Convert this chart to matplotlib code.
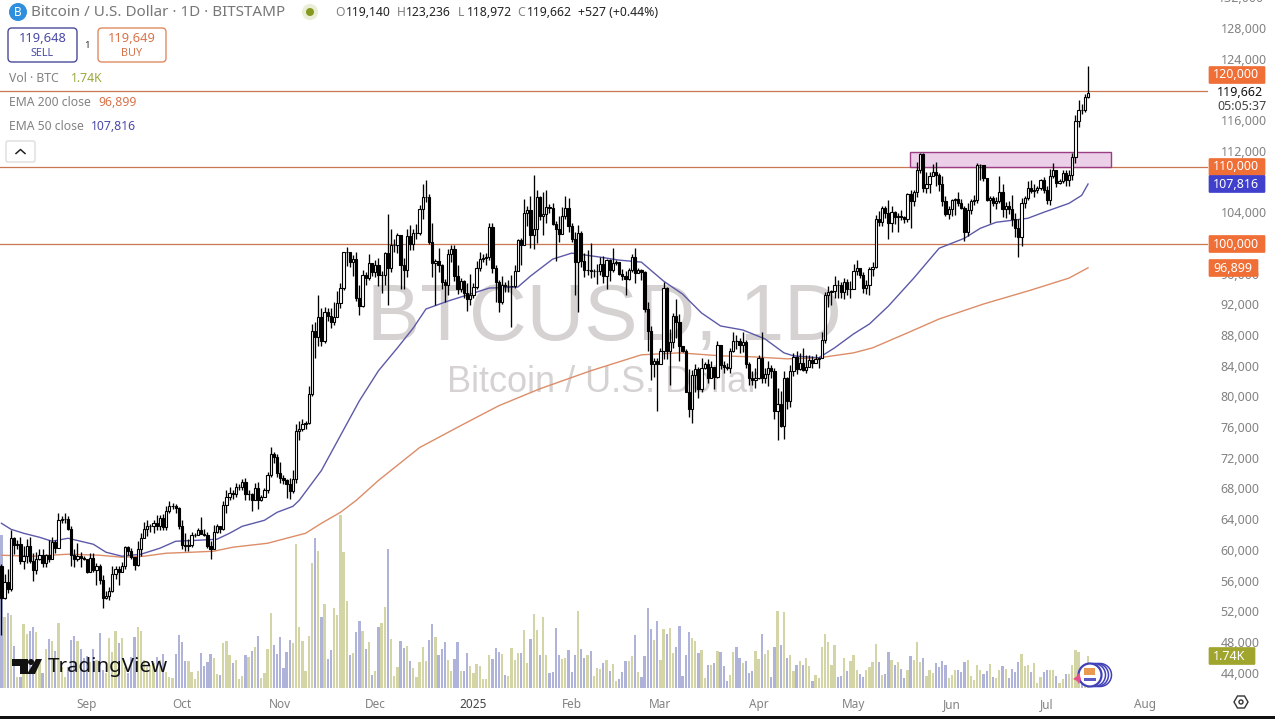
import matplotlib
matplotlib.use('Agg')
import matplotlib.pyplot as plt
from matplotlib.patches import Circle, FancyBboxPatch, Polygon, Rectangle
from matplotlib.transforms import ScaledTranslation

plt.rcParams['font.family'] = ['Noto Sans', 'DejaVu Sans']

# daily candles from 5 Aug 2024 to 14 Jul 2025, prices in thousands of USD
closes = [
    53.9,56.0,55.1,61.7,60.8,60.9,58.7,59.3,60.6,58.7,57.5,58.9,59.5,58.4,59.5,59.0,61.2,60.4,64.1,64.2,64.2,62.9,59.5,59.0,59.4,59.1,58.9,
    57.3,59.1,57.5,58.0,56.2,53.9,54.1,54.8,57.0,57.6,57.3,58.1,60.5,60.0,59.2,58.2,60.3,61.7,62.9,63.2,63.3,63.6,63.3,64.3,63.1,65.2,65.8,65.9,65.6,63.3,
    60.8,60.6,60.8,62.1,62.1,62.8,62.2,62.1,60.6,60.3,62.5,63.2,62.9,66.0,67.0,67.6,67.4,68.4,68.4,69.0,67.4,67.4,66.7,68.2,66.6,67.0,67.9,69.9,72.7,72.3,70.2,
    69.5,69.3,68.7,67.8,69.4,75.6,75.9,76.5,76.7,80.4,88.7,87.9,90.5,87.4,91.1,90.6,89.9,90.5,92.3,94.3,98.9,99.0,97.7,98.0,93.0,91.9,95.9,95.6,97.5,96.4,
    97.2,95.9,96.0,98.8,96.9,99.9,99.9,101.2,97.3,96.6,101.1,100.0,101.4,101.4,104.5,106.1,106.1,100.2,97.5,97.8,97.2,95.1,94.7,98.7,99.4,95.8,94.2,95.2,93.6,92.8,93.4,
    94.4,96.9,98.1,98.2,98.3,102.2,96.9,95.0,92.5,94.7,94.5,94.5,94.5,96.5,100.5,99.9,104.1,104.4,101.2,102.0,106.1,103.6,103.9,104.8,104.7,102.6,102.0,101.3,103.7,104.7,102.4,
    100.6,97.7,101.4,97.8,96.6,96.6,96.5,96.5,96.5,97.4,95.8,97.9,96.6,97.5,97.6,96.1,95.8,95.5,96.6,98.3,96.2,96.6,96.3,91.5,88.7,84.3,84.7,84.4,
    86.0,94.3,86.1,87.2,90.6,89.9,86.7,86.1,80.7,78.5,82.9,83.7,81.1,83.9,84.3,82.6,84.0,82.7,86.9,84.2,84.0,83.8,86.1,87.4,87.3,86.9,87.2,84.3,82.6,82.3,82.5,
    85.1,82.5,83.1,83.8,83.5,78.2,79.2,76.3,82.6,79.6,83.4,85.3,83.7,84.5,83.6,84.0,84.9,84.5,85.0,85.1,87.5,93.4,93.7,93.9,94.7,94.6,93.8,95.0,94.2,94.2,
    96.5,96.9,95.9,94.3,94.7,96.8,97.0,103.2,102.9,104.7,104.1,102.8,104.2,103.5,103.7,103.5,103.2,106.5,105.6,106.8,109.7,111.7,107.3,107.8,108.9,109.4,109.0,107.8,105.6,103.9,104.6,
    105.7,105.9,105.4,104.7,101.5,104.4,105.6,105.7,110.3,110.3,108.6,105.7,106.0,105.4,105.6,106.8,104.6,104.9,104.6,103.3,102.1,100.9,105.3,106.0,107.3,106.9,107.0,107.3,108.4,107.1,
    105.7,108.8,109.6,108.0,108.2,109.2,108.3,109.0,111.3,116.0,117.5,117.4,119.14,119.66,
]
highs = [
    58.3,57.0,57.7,62.7,61.8,61.4,61.8,60.7,61.6,61.8,59.8,59.9,60.2,60.3,59.6,61.4,61.8,61.4,64.9,64.5,65.0,64.5,63.2,60.2,61.1,59.9,59.4,
    59.0,59.8,59.8,58.5,58.3,56.9,54.8,55.3,58.1,58.0,58.0,58.6,60.7,60.6,60.4,59.2,61.3,62.4,63.8,64.0,63.5,64.0,64.7,64.7,64.8,65.8,66.5,66.2,66.1,65.7,
    64.1,62.4,61.5,62.5,62.3,63.0,64.4,62.9,62.5,61.3,63.4,63.5,63.3,66.5,67.9,68.4,68.0,68.9,68.7,69.4,69.5,67.9,67.5,68.9,69.0,67.3,68.2,70.3,73.5,72.9,72.7,
    71.6,69.9,69.4,69.5,70.6,76.5,76.9,77.2,76.9,81.5,89.6,89.9,93.3,91.7,91.8,91.7,91.7,92.5,93.9,94.9,99.0,99.6,99.0,98.6,98.9,94.6,96.6,96.4,98.7,97.4,
    97.9,98.2,96.5,99.0,103.9,102.0,100.6,101.4,101.2,98.2,101.9,102.5,101.9,102.6,105.1,107.8,108.3,106.5,102.8,98.0,99.5,97.4,95.4,99.4,99.9,99.9,97.3,95.6,95.3,94.9,96.1,
    94.9,97.8,98.9,98.7,98.8,102.7,102.7,97.2,95.3,95.8,95.0,95.3,95.9,97.3,100.7,100.8,105.9,104.9,106.3,109.0,107.1,106.3,106.8,107.0,105.2,105.4,103.0,103.7,104.8,106.3,106.0,
    102.8,101.5,102.5,101.7,98.8,99.2,100.1,96.8,97.4,98.3,98.5,98.1,98.1,99.5,97.9,97.7,96.7,96.5,96.9,98.7,99.5,96.9,96.7,96.5,92.5,89.3,85.2,85.1,
    86.5,95.0,94.4,88.9,91.0,92.8,90.9,86.7,86.3,83.7,83.6,84.4,84.0,85.2,84.6,85.0,84.7,84.0,87.4,86.8,84.8,84.5,86.5,88.5,88.2,87.8,88.5,87.5,84.6,83.5,83.8,
    85.5,88.5,83.9,84.7,84.2,83.8,81.2,80.8,83.5,82.7,84.2,85.8,86.0,85.8,86.5,85.5,85.5,85.4,85.7,85.3,88.5,93.8,94.5,94.0,95.8,95.3,95.0,95.6,95.5,95.2,
    97.4,97.9,96.9,96.3,95.3,97.0,97.7,103.8,104.3,104.9,105.0,105.7,104.9,104.3,104.1,104.4,103.7,106.6,107.0,107.1,110.7,111.9,111.8,109.4,109.4,110.4,110.7,109.3,108.9,106.3,105.0,
    105.8,106.0,106.8,105.9,105.0,105.4,105.9,106.4,110.5,110.4,110.3,108.4,106.2,106.2,106.1,108.9,107.8,105.5,105.6,106.4,104.0,103.2,106.0,106.3,108.2,108.3,107.8,107.6,108.5,108.7,
    107.5,109.8,110.5,109.7,108.5,109.7,109.7,109.6,111.9,116.8,118.8,118.2,119.5,123.24,
]
lows = [
    49.1,53.8,54.5,54.8,59.6,60.3,58.3,57.7,58.5,58.5,56.1,57.0,58.8,57.9,57.9,58.6,58.9,59.8,60.4,63.6,63.6,62.8,58.1,57.9,58.7,57.9,58.8,
    57.1,57.2,57.2,55.6,55.7,52.6,53.7,53.6,54.6,56.4,55.6,57.5,57.6,59.5,59.0,57.5,58.0,59.3,61.7,62.0,62.5,62.4,62.7,62.7,62.8,62.8,65.0,65.5,65.0,62.9,
    60.2,60.0,60.0,60.5,61.8,62.1,62.2,61.9,60.4,58.9,60.3,62.4,62.3,62.7,64.9,66.7,66.8,67.0,67.9,68.0,66.7,66.6,65.2,66.7,65.5,66.5,67.0,67.6,69.7,71.5,69.7,
    68.8,68.7,66.9,66.8,67.5,68.9,74.4,75.6,75.9,76.5,80.2,85.1,86.7,86.7,87.1,90.0,89.0,89.4,90.8,91.6,94.0,97.1,97.0,95.8,92.6,90.8,91.8,94.7,95.3,95.8,
    95.7,94.5,93.6,94.7,92.0,96.4,98.9,98.8,94.2,94.2,95.7,99.2,99.2,100.6,101.2,103.3,105.5,100.0,95.7,92.1,96.4,94.2,92.5,93.4,97.6,95.2,93.5,93.8,93.0,91.3,92.0,
    92.9,94.2,96.5,97.6,97.3,97.9,96.2,92.5,91.2,92.2,93.8,93.7,89.2,94.3,96.5,97.3,100.1,102.4,99.5,99.4,100.1,103.1,101.2,102.8,104.1,102.5,97.8,100.3,101.3,103.3,101.5,
    100.2,93.4,91.2,97.0,95.7,95.9,95.6,95.7,94.8,96.0,94.9,94.1,95.2,96.4,97.2,96.0,95.3,93.4,95.3,96.3,94.9,96.2,95.3,91.2,86.0,82.3,82.7,78.2,
    84.4,85.0,85.0,81.6,86.4,87.8,84.7,85.9,80.7,77.5,76.7,80.7,79.9,80.7,83.7,81.9,82.5,81.1,82.6,83.7,83.2,83.6,83.2,85.9,86.3,85.8,85.9,83.9,81.6,81.6,81.3,
    82.4,81.9,81.9,81.5,82.5,77.2,74.5,76.2,74.6,78.5,78.8,82.8,83.1,83.6,83.5,83.2,84.1,83.9,84.5,83.9,85.1,87.1,91.8,92.1,92.9,92.9,92.9,92.8,93.4,92.9,
    94.1,95.9,95.6,93.6,93.5,93.4,95.8,96.9,102.3,102.4,103.4,100.7,101.5,102.6,101.5,103.1,102.7,102.9,102.1,105.0,106.1,109.3,106.8,106.7,106.6,108.9,107.6,106.9,105.0,103.7,103.2,
    103.7,103.8,104.9,104.5,100.4,101.1,103.9,105.1,105.3,108.4,108.2,105.6,102.7,104.9,104.5,105.4,103.5,103.4,103.9,102.3,100.9,98.3,99.7,104.7,105.7,106.6,106.1,106.7,107.1,106.7,
    105.2,105.1,108.6,107.4,107.8,107.9,107.5,107.5,108.3,110.6,115.2,116.9,117.2,118.97,
]
first_open = 58.1

# volume in thousands of BTC
volumes = [
    8.32,3.86,4.08,3.97,2.28,.60,.60,3.48,2.93,3.10,3.32,3.04,1.52,.81,2.12,2.66,2.55,2.01,3.53,1.14,
    .60,1.14,2.61,2.83,2.55,2.12,1.63,1.74,1.41,2.12,1.52,2.99,.98,.81,2.72,1.96,3.10,2.45,2.72,1.14,
    .81,1.68,2.77,3.32,3.10,1.52,1.14,1.25,1.36,1.68,1.52,1.85,.87,.60,.54,1.85,2.88,2.50,1.47,1.47,
    .87,.49,.92,1.90,1.20,1.41,1.85,1.63,.76,.71,2.45,2.55,1.79,1.36,1.52,.49,.65,1.79,1.68,2.01,
    2.23,2.83,.54,.81,2.12,4.08,2.34,1.85,2.77,1.09,1.96,2.61,2.45,7.83,3.32,2.55,.92,2.83,6.79,8.15,
    7.45,3.86,4.57,1.58,2.07,4.35,3.97,9.40,7.39,4.73,1.79,1.90,3.04,3.64,3.10,2.12,2.50,.71,.92,3.32,
    3.53,4.40,7.55,2.66,.65,1.14,2.55,2.17,2.28,1.47,1.09,.60,1.41,2.23,1.47,2.61,3.48,2.77,1.79,2.12,
    2.50,1.52,.92,1.58,2.50,.92,.92,1.90,1.20,.81,1.30,1.20,.49,.49,1.79,1.58,2.17,1.96,1.85,.71,
    .65,2.17,1.52,1.90,1.90,3.15,1.36,2.66,4.02,3.15,1.79,3.86,1.79,.81,.87,3.26,1.79,1.58,1.63,2.07,
    .87,1.79,4.18,2.12,1.63,1.79,2.01,.65,1.09,1.03,1.36,1.52,.92,1.30,.38,.49,.87,1.47,1.47,1.74,
    2.88,.87,.60,1.74,4.35,3.21,2.61,3.64,1.52,3.21,2.93,3.26,1.90,2.23,3.37,.65,1.79,3.04,2.72,2.55,
    1.90,2.07,.54,1.25,1.25,1.36,2.01,1.96,1.20,.38,.71,1.96,2.23,1.63,1.36,1.47,.81,.92,2.01,1.58,
    2.93,1.85,2.07,.60,2.23,4.18,2.34,4.13,1.63,1.79,.92,1.25,1.47,1.25,1.63,1.20,.38,.71,.54,2.23,
    2.93,2.50,1.25,2.34,.60,.65,1.63,.92,1.47,1.79,.98,.76,.60,.98,1.14,1.41,2.39,1.41,.71,.76,
    1.96,1.52,1.25,1.41,1.03,.54,.98,1.74,1.52,2.50,1.41,1.63,.65,.98,.81,1.36,1.14,1.47,1.25,.54,
    .71,.98,.98,.87,1.41,1.52,.65,.43,1.25,.98,.76,.92,1.30,.60,.54,.98,1.20,1.03,.54,1.03,
    .87,1.41,1.85,1.20,1.25,.87,1.36,.27,.60,.87,.98,.98,.98,.65,.27,.49,.76,.76,1.25,2.07,
    1.96,1.20,.76,1.74,
]

# moving averages, day number since the first candle
ema50_days = [0,3,7,12,16,21,25,29,33,38,44,50,55,62,68,72,76,83,87,92,94,101,107,113,119,125,130,134,141,146,154,163,167,174,180,189,195,202,209,215,221,227,234,241,247,250,258,263,269,274,280,288,296,304,309,314,319,324,329,337,341,343]
ema50_vals = [63610,62830,62310,61790,61270,61660,61270,60880,59840,59320,59580,60360,61270,61400,61530,62310,63220,64000,65040,65820,66600,70490,75040,79580,83480,86470,89060,91530,92570,93220,94260,94390,95820,98030,98810,98290,97900,97640,95170,93480,91010,89320,88800,87640,85820,85430,85170,86470,88290,89580,91920,95560,99450,100750,102050,102830,103090,103350,104130,105300,106340,107816]
ema200_days = [0,10,21,31,38,45,52,60,67,73,84,90,96,101,107,112,119,132,145,157,170,186,195,202,214,227,237,248,258,269,275,286,296,310,325,337,343]
ema200_vals = [59450,59320,59580,59450,59190,59320,59710,59840,59970,60490,61010,61660,62310,63610,65040,66600,69190,73480,76340,78930,81140,83480,84650,85560,85820,85430,85300,85040,85170,85820,86470,88420,90230,92180,94000,95560,96899]

price_ticks = [44000,48000,52000,56000,60000,64000,68000,72000,76000,80000,84000,88000,92000,96000,104000,112000,116000,124000,128000]
level_lines = [100000,110000,120000]
month_days = [27,57,88,118,149,180,208,239,269,300,330,361]
month_names = ['Sep','Oct','Nov','Dec','2025','Feb','Mar','Apr','May','Jun','Jul','Aug']

UP_VOL = '#d3d5a6'
DOWN_VOL = '#afb3da'
ORANGE = '#c9774f'
TAG_ORANGE = '#ef6f37'
BLUE = '#4a48a8'
GREY = '#828282'

assert len(closes) == len(highs) == len(lows) == len(volumes) == 344

days = list(range(len(closes)))
opens = [first_open] + closes[:-1]
opens_usd = [v * 1000 for v in opens]
closes_usd = [v * 1000 for v in closes]
highs_usd = [v * 1000 for v in highs]
lows_usd = [v * 1000 for v in lows]

fig = plt.figure(figsize=(12.75, 7.19), dpi=100, facecolor='white')

# chart area runs to x=1208 and y=688 in picture pixels
ax = fig.add_axes([0, 31 / 719, 1208 / 1275, 688 / 719])
ax.set_xlim(-0.46, 380.87)
ax.set_ylim(42150, 131792)
vol_ax = ax.twinx()
vol_ax.set_ylim(0, 688 / 18.4)
vol_ax.set_yticks([])
ax.set_zorder(vol_ax.get_zorder() + 1)
ax.patch.set_visible(False)
for spine in list(ax.spines.values()) + list(vol_ax.spines.values()):
    spine.set_visible(False)

ui = fig.add_axes([0, 0, 1, 1], zorder=10)
ui.set_xlim(0, 1275)
ui.set_ylim(719, 0)
ui.axis('off')

# watermark sits behind everything
vol_ax.text(604, 320, 'BTCUSD, 1D', transform=ui.transData, family='Liberation Sans', fontsize=57.5,
            color='#d6d2d2', ha='center', va='center', zorder=0)
vol_ax.text(603, 383, 'Bitcoin / U.S. Dollar', transform=ui.transData, family='Liberation Sans', fontsize=26,
            color='#d6d2d2', ha='center', va='center', zorder=0)

vol_colors = [UP_VOL if c >= o else DOWN_VOL for o, c in zip(opens, closes)]
vol_ax.bar(days, volumes, width=0.72, color=vol_colors, linewidth=0, zorder=2)

for level in level_lines:
    ax.axhline(level, color=ORANGE, lw=0.9, zorder=1)
ax.add_patch(Rectangle((286.8, 110000), 63.5, 2000, facecolor='#eccfe8', edgecolor='#9b3d82', lw=1.0, zorder=1))

ax.plot(ema200_days, ema200_vals, color='#dc8d68', lw=1.0, zorder=2)
ax.plot(ema50_days, ema50_vals, color='#5c5aa8', lw=1.0, zorder=2)

ax.vlines(days, lows_usd, highs_usd, color='black', lw=0.95, zorder=3)
body_bottoms = [min(o, c) for o, c in zip(opens_usd, closes_usd)]
body_heights = [abs(c - o) for o, c in zip(opens_usd, closes_usd)]
body_colors = ['white' if c >= o else 'black' for o, c in zip(opens, closes)]
ax.bar(days, body_heights, bottom=body_bottoms, width=0.72, color=body_colors,
       edgecolor='black', linewidth=0.8, zorder=4)

ax.yaxis.tick_right()
ax.set_yticks(price_ticks)
ax.set_yticklabels(['{:,}'.format(p) for p in price_ticks], fontsize=9, color=GREY)
ax.tick_params(axis='y', length=0, pad=9)
# price labels sit a little above their level in the reference
for tick_label in ax.get_yticklabels():
    tick_label.set_transform(tick_label.get_transform() + ScaledTranslation(0, 1.2 / 100, fig.dpi_scale_trans))
ax.set_xticks(month_days)
ax.set_xticklabels(month_names, fontsize=8.5, color=GREY)
ax.tick_params(axis='x', length=0, pad=7)
ax.get_xticklabels()[4].set_color('#444444')
ax.get_xticklabels()[4].set_fontweight('bold')


def label(x, y, text, color=GREY, size=9, **kw):
    ui.text(x, y, text, color=color, fontsize=size, va='center', **kw)


def round_box(x0, y0, x1, y1, edge, face='white', lw=1.0, rad=4):
    ui.add_patch(FancyBboxPatch((x0 + rad, y0 + rad), x1 - x0 - 2 * rad, y1 - y0 - 2 * rad,
                                boxstyle='round,pad=%d,rounding_size=%d' % (rad, rad),
                                facecolor=face, edgecolor=edge, lw=lw))


def price_tag(y, text, color, right=1265):
    round_box(1209, y - 8.5, right, y + 8.5, color, face=color, lw=0.5, rad=1)
    ui.text(1213, y, text, color='white', fontsize=9, fontweight='bold', va='center')


# header
ui.add_patch(Circle((18, 12), 9, facecolor='#2f8fdc', edgecolor='none'))
ui.text(18, 12, 'B', color='white', fontsize=8.5, fontweight='bold', ha='center', va='center')
label(31, 12, 'Bitcoin / U.S. Dollar · 1D · BITSTAMP', color='#777777', size=10.95)
ui.add_patch(Circle((310, 12), 8, facecolor='#e9eed6', edgecolor='none'))
ui.add_patch(Circle((310, 12), 4, facecolor='#87981f', edgecolor='none'))
ohlc_parts = [(335, 'O', GREY), (346, '119,140', '#222222'), (397, 'H', GREY), (406, '123,236', '#222222'),
              (458, 'L', GREY), (467, '118,972', '#222222'), (517, 'C', GREY), (527, '119,662', '#222222'),
              (578, '+527 (+0.44%)', '#222222')]
for x, text, color in ohlc_parts:
    label(x, 12, text, color=color, size=8.8)

# sell and buy buttons
round_box(8, 28, 77, 62, '#4a4a9a')
label(42.5, 39, '119,648', color='#4a4aa8', size=9.3, ha='center')
label(42.5, 53, 'SELL', color='#4a4aa8', size=7.8, ha='center')
label(87, 45, '1', color='#333333', size=7, ha='center')
round_box(98, 28, 166, 62, '#e08a60')
label(132, 39, '119,649', color='#d8734a', size=9.3, ha='center')
label(132, 53, 'BUY', color='#d8734a', size=7.8, ha='center')

# indicator legend
label(9, 79, 'Vol · BTC', size=8.8)
label(71, 79, '1.74K', color='#9aa83c', size=8.8)
label(9, 103, 'EMA 200 close', size=8.8)
label(98, 103, '96,899', color='#d8734a', size=8.8)
label(9, 127, 'EMA 50 close', size=8.8)
label(91, 127, '107,816', color='#4a4aa8', size=8.8)
round_box(6, 141, 35, 162, '#dddddd', rad=2)
ui.plot([16, 20.5, 25], [153.5, 149.5, 153.5], color='#222222', lw=1.1)

# right side tags
label(1218, -1, '132,000')
price_tag(75, '120,000', TAG_ORANGE)
price_tag(167, '110,000', TAG_ORANGE)
price_tag(184, '107,816', '#4040cc')
price_tag(244, '100,000', TAG_ORANGE)
price_tag(268, '96,899', TAG_ORANGE, right=1258)
price_tag(656, '1.74K', '#a0a52e', right=1255)
label(1217, 92, '119,662', color='#111111')
label(1217, 106, '05:05:37', color='#444444')

# TradingView logo
ui.add_patch(Polygon([(12, 659), (28, 659), (28, 674), (20, 674), (20, 666), (12, 666)], facecolor='#111111', edgecolor='none'))
ui.add_patch(Circle((31, 662), 3, facecolor='#111111', edgecolor='none'))
ui.add_patch(Polygon([(36, 659), (42, 659), (35, 674), (27, 674)], facecolor='#111111', edgecolor='none'))
label(48, 667, 'TradingView', color='#111111', size=14.8, fontweight='bold')

# small badge over the last volume bars
for cx in [1100, 1097, 1094]:
    ui.add_patch(Circle((cx, 675), 11.5, facecolor='white', edgecolor='#4040b8', lw=1.1))
ui.add_patch(Circle((1090, 675), 11.5, facecolor='white', edgecolor='#4040b8', lw=1.6))
ui.add_patch(Rectangle((1084, 668), 11, 7, facecolor='#e89a50', edgecolor='none'))
ui.add_patch(Rectangle((1084, 678), 12, 3, facecolor='#5a5ac0', edgecolor='none'))
ui.add_patch(Polygon([(1073, 679), (1077, 676), (1079, 673), (1081, 679), (1079, 684), (1077, 681)], facecolor='#e8508a', edgecolor='none'))

# settings button and the black strip under the screenshot
ui.add_patch(Polygon([(1234, 702), (1237.5, 696), (1244.5, 696), (1248, 702), (1244.5, 708), (1237.5, 708)],
                     facecolor='white', edgecolor='#333333', lw=1.0))
ui.add_patch(Circle((1241, 702), 2, facecolor='white', edgecolor='#333333', lw=1.0))
ui.add_patch(Rectangle((0, 716), 1275, 3, facecolor='#111111', edgecolor='none'))

fig.savefig('out.png', dpi=100)
